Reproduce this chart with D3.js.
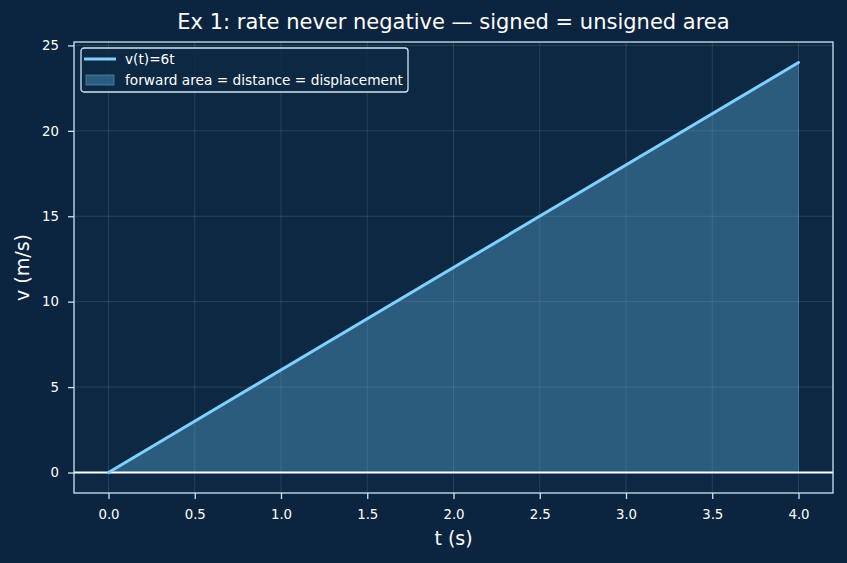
<!DOCTYPE html>
<html>
<head>
<meta charset="utf-8">
<script src="https://cdn.jsdelivr.net/npm/d3@7"></script>
<style>
body{margin:0;background:#0b2540;}
svg{display:block;font-family:"DejaVu Sans",sans-serif;}
</style>
</head>
<body>
<svg id="chart" width="847" height="563"></svg>
<script>
var tValues=[0,4];
var vValues=[0,24];
var xTicks=[0,0.5,1,1.5,2,2.5,3,3.5,4];
var yTicks=[0,5,10,15,20,25];
var titleText="Ex 1: rate never negative — signed = unsigned area";
var legendLabels=["v(t)=6t","forward area = distance = displacement"];

var svg=d3.select("#chart");
var W=847,H=563;
var m={left:74,right:833,top:42,bottom:493};

svg.append("rect").attr("width",W).attr("height",H).attr("fill","#0b2540");
svg.append("rect").attr("x",m.left).attr("y",m.top).attr("width",m.right-m.left).attr("height",m.bottom-m.top).attr("fill","#0c2843");

var x=d3.scaleLinear().domain([-0.2,4.2]).range([m.left,m.right]);
var y=d3.scaleLinear().domain([-1.2,25.2]).range([m.bottom,m.top]);

var pts=tValues.map(function(t,i){return [t,vValues[i]];});

// grid
svg.append("g").selectAll("line").data(xTicks).enter().append("line")
	.attr("x1",function(d){return x(d);}).attr("x2",function(d){return x(d);})
	.attr("y1",m.top).attr("y2",m.bottom)
	.attr("stroke","#ffffff").attr("stroke-opacity",0.15).attr("stroke-width",0.8);
svg.append("g").selectAll("line").data(yTicks).enter().append("line")
	.attr("y1",function(d){return y(d);}).attr("y2",function(d){return y(d);})
	.attr("x1",m.left).attr("x2",m.right)
	.attr("stroke","#ffffff").attr("stroke-opacity",0.15).attr("stroke-width",0.8);

// area
var area=d3.area().x(function(d){return x(d[0]);}).y0(y(0)).y1(function(d){return y(d[1]);});
svg.append("path").datum(pts).attr("d",area)
	.attr("fill","#5aa9d6").attr("fill-opacity",0.4)
	.attr("stroke","#5aa9d6").attr("stroke-opacity",0.4).attr("stroke-width",1);

// zero line
svg.append("line").attr("x1",m.left).attr("x2",m.right).attr("y1",y(0)).attr("y2",y(0))
	.attr("stroke","#ffffff").attr("stroke-width",1.8);

// line
var line=d3.line().x(function(d){return x(d[0]);}).y(function(d){return y(d[1]);});
svg.append("path").datum(pts).attr("d",line)
	.attr("fill","none").attr("stroke","#7fd0ff").attr("stroke-width",3).attr("stroke-linecap","round");

// spines
svg.append("rect").attr("x",m.left).attr("y",m.top).attr("width",m.right-m.left).attr("height",m.bottom-m.top)
	.attr("fill","none").attr("stroke","#cfe3f5").attr("stroke-width",1.3);

// axes
var xAxis=svg.append("g").attr("transform","translate(0,"+m.bottom+")")
	.call(d3.axisBottom(x).tickValues(xTicks).tickFormat(d3.format(".1f")).tickSizeOuter(0).tickSize(6).tickPadding(11));
var yAxis=svg.append("g").attr("transform","translate("+m.left+",0)")
	.call(d3.axisLeft(y).tickValues(yTicks).tickFormat(d3.format("d")).tickSizeOuter(0).tickSize(6).tickPadding(9));
[xAxis,yAxis].forEach(function(a){
	a.select(".domain").remove();
	a.selectAll("line").attr("stroke","#cfe3f5").attr("stroke-width",1.3);
	a.selectAll("text").attr("fill","#ffffff").attr("font-size","13.3px").attr("font-family","DejaVu Sans");
});

// labels
svg.append("text").attr("x",(m.left+m.right)/2).attr("y",29).attr("text-anchor","middle")
	.attr("fill","#ffffff").attr("font-size","21px").text(titleText);
svg.append("text").attr("x",(m.left+m.right)/2).attr("y",545).attr("text-anchor","middle")
	.attr("fill","#ffffff").attr("font-size","19px").text("t (s)");
svg.append("text").attr("transform","translate(29,"+((m.top+m.bottom)/2)+") rotate(-90)").attr("text-anchor","middle")
	.attr("fill","#ffffff").attr("font-size","19px").text("v (m/s)");

// legend
var lg=svg.append("g").attr("transform","translate(81,48)");
lg.append("rect").attr("width",327).attr("height",44).attr("rx",3)
	.attr("fill","#0c2843").attr("fill-opacity",0.8).attr("stroke","#cfe3f5").attr("stroke-width",1.3);
lg.append("line").attr("x1",3).attr("x2",35).attr("y1",11).attr("y2",11)
	.attr("stroke","#7fd0ff").attr("stroke-width",3);
lg.append("rect").attr("x",5).attr("y",27).attr("width",28).attr("height",10)
	.attr("fill","#5aa9d6").attr("fill-opacity",0.4).attr("stroke","#5aa9d6").attr("stroke-opacity",0.6);
lg.selectAll("text.lab").data(legendLabels).enter().append("text").attr("class","lab")
	.attr("x",44).attr("y",function(d,i){return 16+i*21;})
	.attr("fill","#ffffff").attr("font-size","13.7px").text(function(d){return d;});
</script>
</body>
</html>
